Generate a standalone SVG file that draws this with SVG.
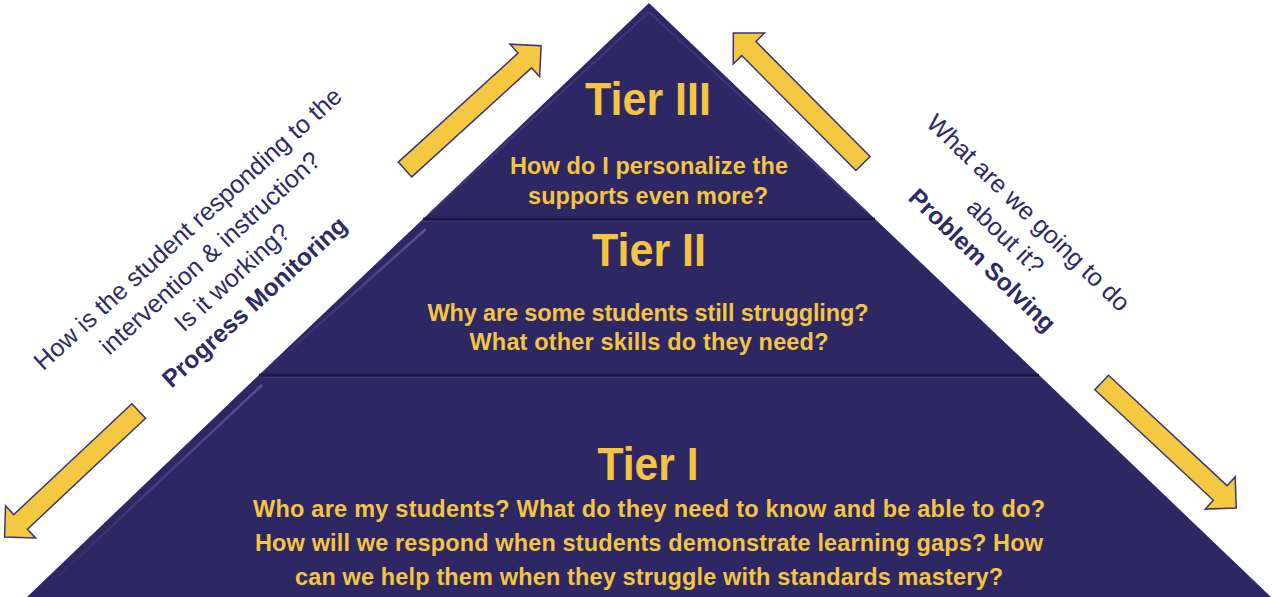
<svg xmlns="http://www.w3.org/2000/svg" width="1274" height="597" viewBox="0 0 1274 597">
<style>
.tier{fill:#2d2763}
.bev{fill:none;stroke:#4b4690;stroke-width:2;stroke-opacity:.55}
.sep{stroke:#1c1746;stroke-width:2.5}
.sep2{stroke:#3e3878;stroke-width:1.2}
.title{font-family:"Liberation Sans",Arial,sans-serif;font-weight:bold;font-size:46px;fill:#f4c542;text-anchor:middle}
.q{font-family:"Liberation Sans",Arial,sans-serif;font-weight:bold;font-size:23.5px;fill:#f4c542;text-anchor:middle}
.side{font-family:"Liberation Sans",Arial,sans-serif;font-size:25px;fill:#2e2a66;text-anchor:middle}
.sideb{font-family:"Liberation Sans",Arial,sans-serif;font-size:24.5px;font-weight:bold;fill:#2e2a66;text-anchor:middle}
.arr{fill:#f5c842;stroke:#3b3572;stroke-width:1.5;stroke-linejoin:miter}
</style>
<defs>
<path id="arrow" d="M0,-10 L162,-10 L162,-22 L184,0 L162,22 L162,10 L0,10 Z"/>
<linearGradient id="hl" x1="0" y1="0" x2="0" y2="1">
<stop offset="0" stop-color="#7a75c0" stop-opacity=".9"/>
<stop offset="1" stop-color="#7a75c0" stop-opacity="0"/>
</linearGradient>
</defs>

<g id="tier3">
<polygon class="tier" points="649,3 875,219 423,219"/>
<polyline class="bev" points="430,213 649,12 868,213"/>
<text class="title" x="648" y="115" textLength="126" lengthAdjust="spacingAndGlyphs">Tier III</text>
<text class="q" x="649" y="174" textLength="278">How do I personalize the</text>
<text class="q" x="648" y="204" textLength="240">supports even more?</text>
</g>

<g id="tier2">
<polygon class="tier" points="423,219 875,219 1039,375 259,375"/>
<line x1="426" y1="229" x2="270" y2="368" stroke="url(#hl)" stroke-width="2.5" stroke-opacity=".6"/>
<text class="title" x="649" y="266" textLength="114" lengthAdjust="spacingAndGlyphs">Tier II</text>
<text class="q" x="648" y="321" textLength="441">Why are some students still struggling?</text>
<text class="q" x="649" y="350" textLength="359">What other skills do they need?</text>
</g>

<g id="tier1">
<polygon class="tier" points="259,375 1039,375 1271,597 27,597"/>
<line x1="262" y1="385" x2="46" y2="588" stroke="url(#hl)" stroke-width="2.5" stroke-opacity=".6"/>
<text class="title" x="648" y="480" textLength="101" lengthAdjust="spacingAndGlyphs">Tier I</text>
<text class="q" x="649" y="517" textLength="792">Who are my students? What do they need to know and be able to do?</text>
<text class="q" x="649" y="551" textLength="788">How will we respond when students demonstrate learning gaps? How</text>
<text class="q" x="649" y="585" textLength="708">can we help them when they struggle with standards mastery?</text>
</g>

<g id="separators">
<line class="sep" x1="423" y1="219" x2="875" y2="219"/>
<line class="sep2" x1="421" y1="221.5" x2="877" y2="221.5"/>
<line class="sep" x1="259" y1="375" x2="1039" y2="375"/>
<line class="sep2" x1="257" y1="377.5" x2="1041" y2="377.5"/>
</g>

<g id="progress-monitoring" transform="translate(188,229) rotate(-42.3)">
<text class="side" x="0" y="8">How is the student responding to the</text>
<text class="side" x="0" y="41">intervention &amp; instruction?</text>
<text class="side" x="0" y="74">Is it working?</text>
<text class="sideb" x="0" y="107">Progress Monitoring</text>
</g>

<g id="problem-solving" transform="translate(1028,213) rotate(44)">
<text class="side" x="0" y="8">What are we going to do</text>
<text class="side" x="0" y="41">about it?</text>
<text class="sideb" x="0" y="74">Problem Solving</text>
</g>

<g id="connectors">
<use href="#arrow" class="arr" transform="translate(405,169.5) rotate(-42.3)"/>
<use href="#arrow" class="arr" transform="translate(863,163.5) rotate(-134.8)"/>
<use href="#arrow" class="arr" transform="translate(138.7,411) rotate(136.8)"/>
<use href="#arrow" class="arr" transform="translate(1101.7,382.5) rotate(43)"/>
</g>
</svg>
